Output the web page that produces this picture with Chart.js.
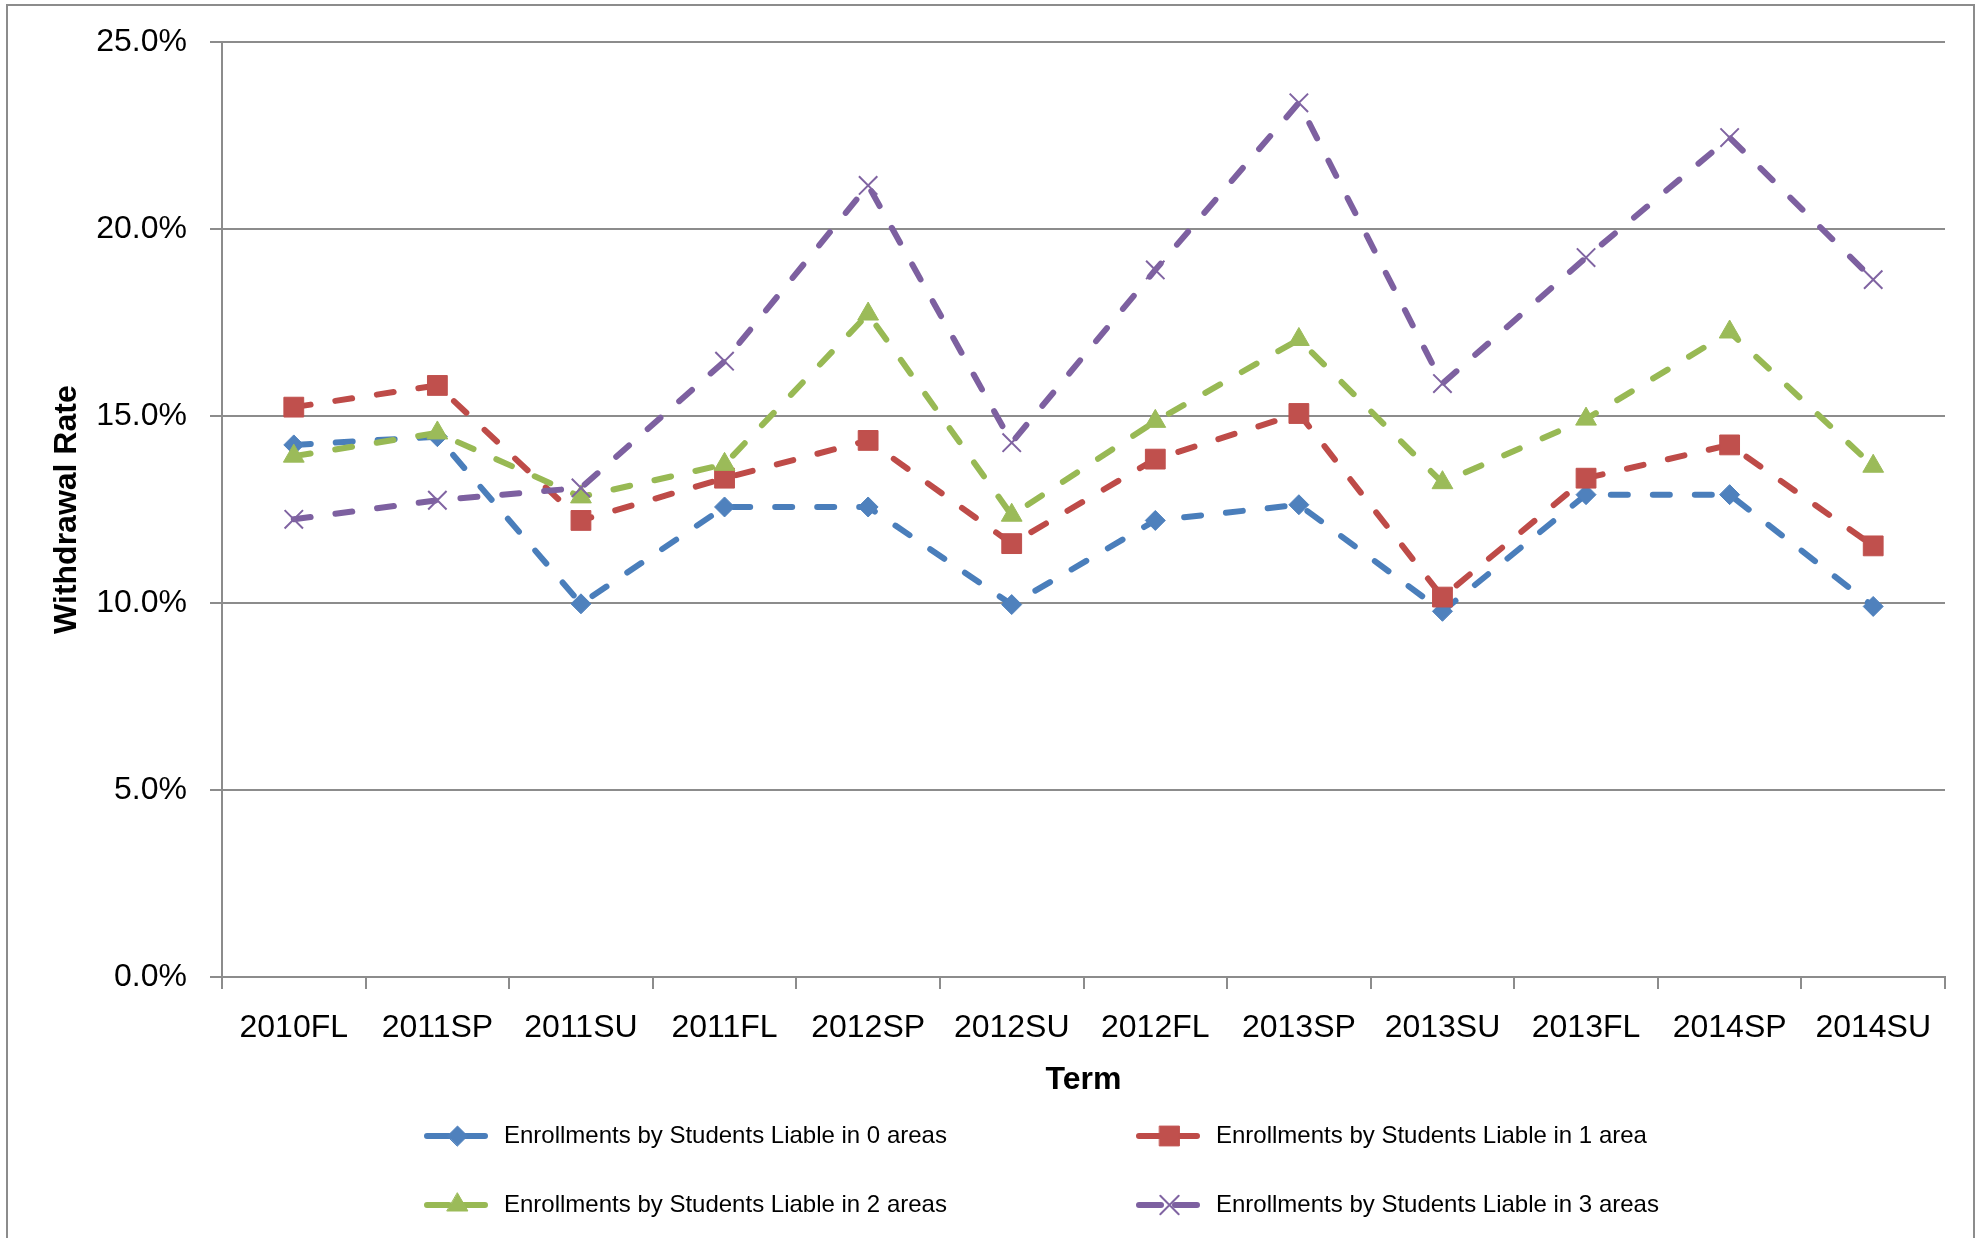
<!DOCTYPE html>
<html><head><meta charset="utf-8">
<script src="https://cdn.jsdelivr.net/npm/chart.js@4.4.1/dist/chart.umd.min.js"></script>
<style>
html,body{margin:0;padding:0;background:#fff;overflow:hidden;}
#wrap{position:relative;width:1977px;height:1238px;}
#frame{position:absolute;left:6px;top:4px;width:1969px;height:1300px;border:2px solid #8c8c8c;box-sizing:border-box;pointer-events:none;}
canvas{position:absolute;left:0;top:0;}
</style></head><body>
<div id="wrap"><canvas id="c" width="1977" height="1238"></canvas><div id="frame"></div></div>
<script>
// ---- data ----
const terms = ['2010FL','2011SP','2011SU','2011FL','2012SP','2012SU','2012FL','2013SP','2013SU','2013FL','2014SP','2014SU'];
const seriesNames = [
  'Enrollments by Students Liable in 0 areas',
  'Enrollments by Students Liable in 1 area',
  'Enrollments by Students Liable in 2 areas',
  'Enrollments by Students Liable in 3 areas'
];
const liable0 = [14.23, 14.45, 9.98, 12.57, 12.57, 9.96, 12.21, 12.63, 9.78, 12.90, 12.90, 9.91];
const liable1 = [15.24, 15.82, 12.21, 13.34, 14.35, 11.59, 13.85, 15.07, 10.16, 13.34, 14.23, 11.53];
const liable2 = [13.93, 14.55, 12.84, 13.71, 17.73, 12.35, 14.86, 17.05, 13.22, 14.92, 17.25, 13.66];
const liable3 = [12.24, 12.75, 13.08, 16.47, 21.17, 14.29, 18.91, 23.38, 15.87, 19.24, 22.45, 18.65];
const yTicks = [0, 5, 10, 15, 20, 25];
const yTitle = 'Withdrawal Rate';
const xTitle = 'Term';

// ---- styles ----
const FONT = '"Liberation Sans", Arial, sans-serif';
const lineColors = ['#4A7EBB', '#BE4B48', '#98B954', '#7D60A0'];
const markColors = ['#4F81BD', '#C0504D', '#9BBB59', '#8064A2'];
const pStyles = ['rectRot', 'rect', 'triangle', 'crossRot'];
const pRadius = [10, 14, 12, 13];
const pBorder = [1, 1, 1, 2];
const GRID = '#8c8c8c';

Chart.defaults.font.family = FONT;
Chart.defaults.color = '#000';

const seriesData = [liable0, liable1, liable2, liable3];
const datasets = seriesData.map((d, i) => ({
  label: seriesNames[i],
  data: d,
  borderColor: lineColors[i],
  backgroundColor: markColors[i],
  borderWidth: 6,
  borderDash: [17, 25],
  borderCapStyle: 'round',
  borderJoinStyle: 'round',
  tension: 0,
  fill: false,
  pointStyle: pStyles[i],
  pointRadius: pRadius[i],
  pointHoverRadius: pRadius[i],
  pointBackgroundColor: markColors[i],
  pointBorderColor: markColors[i],
  pointBorderWidth: pBorder[i],
  order: 4 - i
}));

function drawMarker(ctx, style, r, bw, x, y) {
  if (Chart.helpers && Chart.helpers.drawPoint) {
    Chart.helpers.drawPoint(ctx, {pointStyle: style, radius: r, borderWidth: bw, rotation: 0}, x, y);
  }
}

const legendPlugin = {
  id: 'excelLegend',
  afterDraw(chart) {
    const ctx = chart.ctx;
    const colX = [424, 1136];
    const rowY = [1136, 1205];
    chart.data.datasets.forEach((ds, i) => {
      const x = colX[i % 2], y = rowY[Math.floor(i / 2)];
      ctx.save();
      ctx.strokeStyle = ds.borderColor;
      ctx.lineWidth = 6;
      ctx.lineCap = 'round';
      ctx.setLineDash([22, 14]);
      ctx.beginPath();
      ctx.moveTo(x + 3, y);
      ctx.lineTo(x + 64, y);
      ctx.stroke();
      ctx.setLineDash([]);
      ctx.fillStyle = ds.pointBackgroundColor;
      ctx.strokeStyle = ds.pointBorderColor;
      ctx.lineWidth = ds.pointBorderWidth;
      drawMarker(ctx, ds.pointStyle, ds.pointRadius, ds.pointBorderWidth, x + 33.5, y);
      ctx.fillStyle = '#000';
      ctx.font = '24px ' + FONT;
      ctx.textBaseline = 'middle';
      ctx.textAlign = 'left';
      ctx.fillText(ds.label, x + 80, y);
      ctx.restore();
    });
  }
};

new Chart(document.getElementById('c'), {
  type: 'line',
  data: { labels: terms, datasets: datasets },
  plugins: [legendPlugin],
  options: {
    responsive: false,
    animation: false,
    events: [],
    layout: { padding: { top: 40, right: 32, bottom: 100, left: 0 } },
    plugins: { legend: { display: false }, tooltip: { enabled: false } },
    scales: {
      x: {
        type: 'category',
        offset: true,
        grid: { display: true, drawOnChartArea: false, drawTicks: true, tickLength: 12, offset: true, color: GRID, lineWidth: 2 },
        border: { display: true, color: GRID, width: 2 },
        ticks: { font: { size: 32 }, padding: 20, maxRotation: 0, autoSkip: false, color: '#000' },
        title: { display: true, text: xTitle, font: { size: 32, weight: 'bold' }, padding: { top: 0, bottom: 39 }, color: '#000' },
        afterFit(scale) { scale.height = 161; }
      },
      y: {
        min: 0, max: 25,
        afterBuildTicks(scale) { scale.ticks = yTicks.map(v => ({ value: v })); },
        grid: { color: GRID, lineWidth: 2, drawTicks: true, tickLength: 12 },
        border: { display: true, color: GRID, width: 2 },
        ticks: { font: { size: 32 }, padding: 23, color: '#000', callback: v => v.toFixed(1) + '%' },
        title: { display: true, text: yTitle, font: { size: 32, weight: 'bold' }, padding: { top: 48, bottom: 0 }, color: '#000' },
        afterFit(scale) { scale.width = 222; }
      }
    }
  }
});
</script>
</body></html>
